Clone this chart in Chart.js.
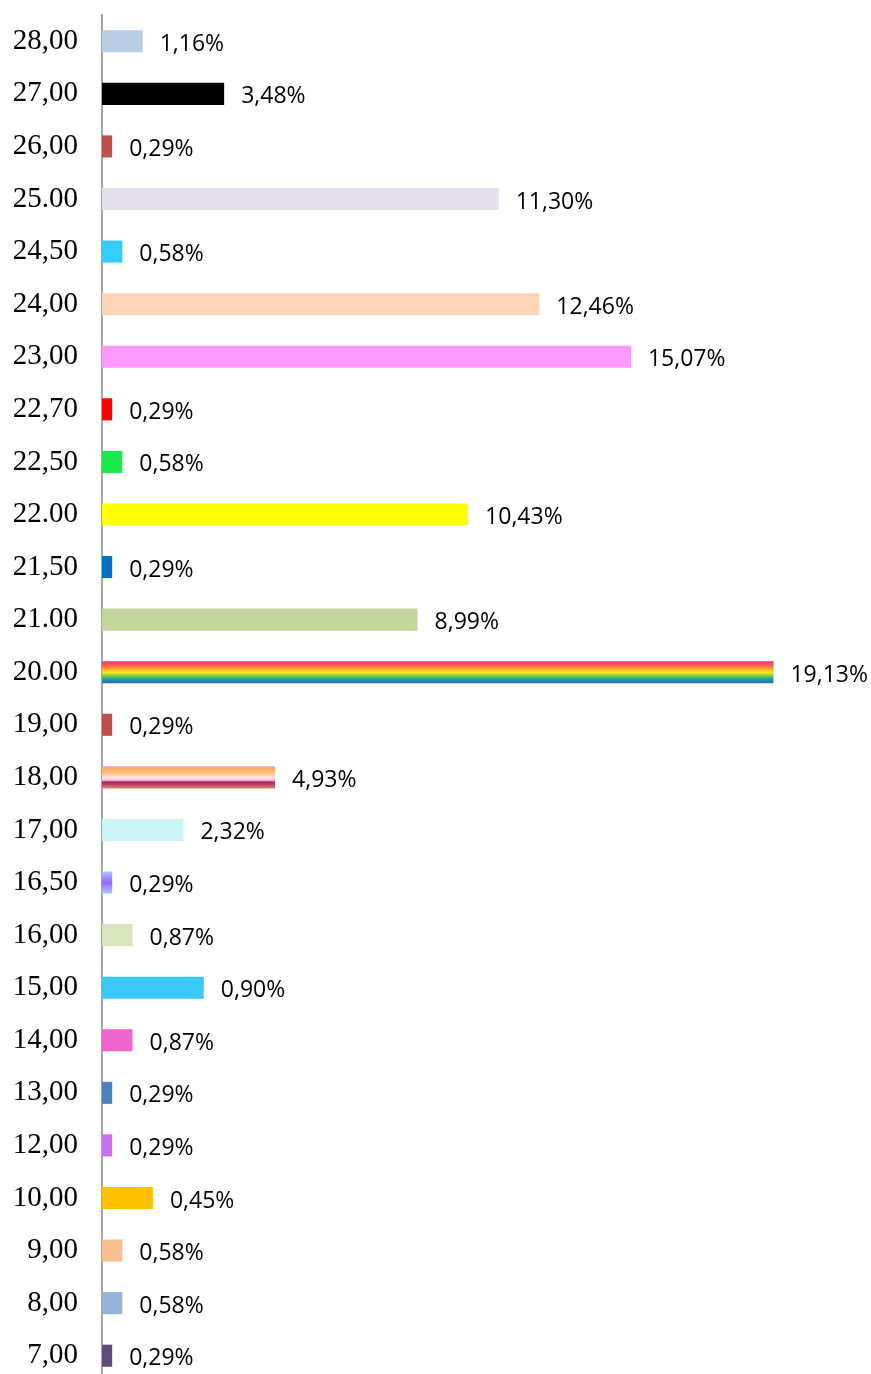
<!DOCTYPE html>
<html>
<head>
<meta charset="utf-8">
<script src="https://cdn.jsdelivr.net/npm/chart.js@4.4.1/dist/chart.umd.min.js"></script>
<style>
html,body{margin:0;padding:0;background:#fff;overflow:hidden;}
canvas{display:block;}
</style>
</head>
<body>
<canvas id="grafico" width="871" height="1382"></canvas>
<script>
// categorias de cima para baixo
const categorias=["28,00","27,00","26,00","25.00","24,50","24,00","23,00","22,70","22,50","22.00","21,50","21.00","20.00","19,00","18,00","17,00","16,50","16,00","15,00","14,00","13,00","12,00","10,00","9,00","8,00","7,00"];
// comprimento das barras (%)
const valores=[1.16,3.48,0.29,11.30,0.58,12.46,15.07,0.29,0.58,10.43,0.29,8.99,19.13,0.29,4.93,2.32,0.29,0.87,2.90,0.87,0.29,0.29,1.45,0.58,0.58,0.29];
// rotulos como aparecem no grafico
const rotulos=["1,16%","3,48%","0,29%","11,30%","0,58%","12,46%","15,07%","0,29%","0,58%","10,43%","0,29%","8,99%","19,13%","0,29%","4,93%","2,32%","0,29%","0,87%","0,90%","0,87%","0,29%","0,29%","0,45%","0,58%","0,58%","0,29%"];
const cores=["#B9CDE5","#000000","#C0504D","#E4DFEC","#33CCFF","#FCD5B5","#FF99FF","#FF0000","#1BE84C","#FFFF00","#0070C0","#C3D69B","arco","#C0504D","listras","#CCF5FA","lilas","#D7E4BD","#3BC8F5","#EE66CC","#4F81BD","#CC6EF0","#FFC000","#FAC090","#95B3D7","#604A7B"];

const gradientes={
arco:[[0,"#F4307F"],[0.18,"#FF5A55"],[0.34,"#FFA030"],[0.5,"#FFE81E"],[0.64,"#8CD23C"],[0.8,"#1EA88A"],[1,"#2A64DC"]],
listras:[[0,"#F6A0B0"],[0.15,"#F9B060"],[0.35,"#FBC888"],[0.5,"#FDE6E8"],[0.62,"#F4C8D4"],[0.72,"#B01E5E"],[0.85,"#C04870"],[1,"#E08A60"]],
lilas:[[0,"#A8C8FF"],[0.5,"#9A66FF"],[1,"#A8C8FF"]]
};

function corBarra(c){
let cor=cores[c.dataIndex];
if(!gradientes[cor])return cor;
let y=c.chart.scales.y;
if(!y)return "#888";
let cy=y.getPixelForValue(c.dataIndex);
let g=c.chart.ctx.createLinearGradient(0,cy-11,0,cy+11);
gradientes[cor].forEach(s=>g.addColorStop(s[0],s[1]));
return g;
}

const rotulosPlugin={
id:"rotulos",
afterDatasetsDraw(chart){
let ctx=chart.ctx;
let meta=chart.getDatasetMeta(0);
ctx.save();
ctx.font='23px "Open Sans"';
ctx.fillStyle="#000";
ctx.textBaseline="middle";
ctx.textAlign="left";
meta.data.forEach((bar,i)=>{ctx.fillText(rotulos[i],bar.x+17,bar.y+3);});
ctx.restore();
}
};

new Chart(document.getElementById("grafico"),{
type:"bar",
data:{labels:categorias,datasets:[{data:valores,backgroundColor:corBarra,borderWidth:0,barPercentage:0.42,categoryPercentage:1}]},
options:{
indexAxis:"y",
responsive:false,
animation:false,
layout:{padding:{top:15,right:67,bottom:0,left:0}},
plugins:{legend:{display:false},tooltip:{enabled:false}},
scales:{
x:{display:false,min:0,max:20},
y:{
afterFit(s){s.width=102;s.paddingTop=0;s.paddingBottom=0;},
grid:{display:false,drawTicks:false},
border:{display:true,color:"#A6A6A6",width:2},
ticks:{color:"#000",padding:24,font:{family:'"Liberation Serif"',size:29}}
}
}
},
plugins:[rotulosPlugin]
});
</script>
</body>
</html>
